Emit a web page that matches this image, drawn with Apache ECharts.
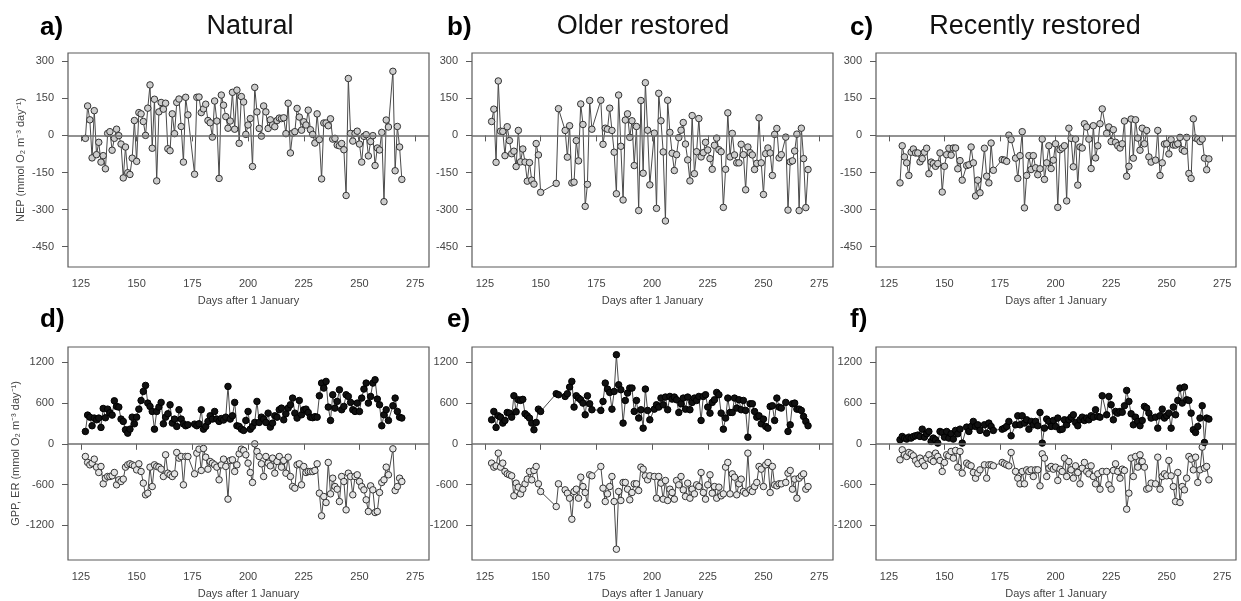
<!DOCTYPE html>
<html>
<head>
<meta charset="utf-8">
<script src="https://cdn.jsdelivr.net/npm/echarts@6/dist/echarts.min.js"></script>
<style>
html,body{margin:0;padding:0;background:#fff;}
#chart{width:1241px;height:601px;}
</style>
</head>
<body>
<div id="chart"></div>
<script>
// ---------------- DATA ----------------
const xTicks = [125, 150, 175, 200, 225, 250, 275];
const nepTicks = [-450, -300, -150, 0, 150, 300];
const fluxTicks = [-1200, -600, 0, 600, 1200];

const panelLetters = ["a)", "b)", "c)", "d)", "e)", "f)"];
const siteNames = ["Natural", "Older restored", "Recently restored"];

// Natural (panels a, d)
const daysNatural = [127,128,129,130,131,132,133,134,135,136,137,138,139,140,141,142,143,144,145,146,147,148,149,150,151,152,153,154,155,156,157,158,159,160,161,162,163,164,165,166,167,168,169,170,171,172,173,
176,177,178,179,180,181,182,183,184,185,186,187,188,189,190,191,192,193,194,195,196,197,198,199,200,201,202,203,204,205,206,207,208,209,210,211,212,213,214,215,216,217,218,219,220,221,222,223,224,225,226,227,228,229,230,231,232,233,234,235,236,237,238,239,240,241,242,243,244,245,246,247,248,249,250,251,252,253,254,255,256,257,258,259,260,261,262,263,
265,266,267,268,269];
const nepNatural = [-12,119,63,-91,100,-78,-28,-108,-82,-135,8,15,-60,-12,25,-1,-35,-172,-47,-151,-158,-92,60,-105,92,87,56,0,110,204,-52,146,-184,95,133,106,130,-54,-62,87,7,133,147,36,-108,154,83,
-157,154,155,92,107,126,60,51,-7,139,58,-174,163,122,76,29,58,174,25,183,-32,157,135,4,42,68,-126,194,95,28,-3,119,95,28,63,42,35,60,70,68,71,7,130,-71,9,15,109,74,21,55,42,102,23,4,-31,87,-17,-176,50,50,39,67,-15,-12,-39,-42,-33,-58,-243,230,8,-23,8,17,-35,-108,-4,3,-83,-25,-1,-122,-51,-59,12,-268,62,34,
259,-143,36,-47,-178];
const gppNatural = [182,423,393,266,379,354,379,241,521,384,511,457,423,634,551,541,364,330,207,157,216,393,295,393,511,639,772,861,600,551,477,216,477,541,610,295,393,443,575,305,364,256,502,364,295,266,280,
290,266,295,502,216,256,330,413,364,477,364,330,372,350,393,846,364,413,610,266,256,216,197,344,477,216,256,315,625,315,393,364,315,452,246,305,413,393,502,526,354,443,526,575,674,452,379,639,428,502,511,462,393,385,400,393,708,895,821,920,541,344,723,526,625,797,502,551,723,698,610,502,477,600,477,674,807,895,600,698,895,944,659,575,266,428,502,344,
561,674,477,393,380];
const erNatural = [-187,-275,-310,-285,-226,-344,-423,-334,-590,-507,-482,-482,-472,-423,-605,-531,-556,-521,-344,-310,-295,-310,-325,-384,-295,-408,-580,-752,-728,-344,-630,-310,-334,-344,-374,-482,-162,-433,-457,-482,-443,-128,-211,-187,-605,-187,-187,
-443,-138,-79,-393,-69,-197,-374,-261,-285,-310,-344,-531,-310,-226,-334,-816,-246,-236,-408,-310,-148,-79,-98,-162,-285,-423,-570,0,-113,-187,-295,-482,-187,-285,-325,-211,-433,-261,-187,-344,-246,-433,-197,-482,-630,-654,-310,-295,-605,-334,-423,-408,-408,-408,-393,-295,-728,-1062,-777,-866,-275,-738,-507,-630,-669,-851,-482,-556,-974,-433,-482,-752,-482,-457,-556,-630,-679,-826,-998,-620,-679,-1013,-998,-718,-570,-531,-344,-457,
-74,-689,-630,-507,-556];

// Older restored (panels b, e)
const daysOlder = [128,129,130,131,132,133,134,135,136,137,138,139,140,141,142,143,144,145,146,147,148,149,150,
157,158,
161,162,163,164,165,166,167,168,169,170,171,172,173,
177,178,179,180,181,182,183,184,185,186,187,188,189,190,191,192,193,194,195,196,197,198,199,
201,202,203,204,205,206,207,208,209,210,211,212,213,214,215,216,217,218,219,220,221,222,223,224,225,226,227,228,229,230,231,232,233,234,235,236,237,238,239,240,241,242,243,244,245,246,247,248,249,250,251,252,253,254,255,256,257,258,
260,261,262,263,264,265,266,267,268,269,270];
const nepOlder = [56,106,-109,220,17,16,-82,35,-21,-74,-64,-126,20,-107,-55,-108,-185,-110,-181,-197,-33,-79,-230,
-194,108,
20,-88,39,-192,-189,-21,-103,127,44,-287,-198,141,25,
142,-36,29,25,110,20,-68,-236,163,-44,-261,62,87,-8,59,-122,36,-304,141,-153,213,21,-200,
9,-295,170,59,-67,-346,142,12,-72,-142,-78,-9,21,52,-35,-99,-184,80,-155,-66,68,-87,-70,-28,-59,-94,-137,-40,-11,-58,-66,-291,-137,91,-87,8,-79,-111,-111,-36,-78,-220,-47,-70,-79,-138,-113,71,-111,-239,-74,-51,-71,-162,4,28,-91,-78,
-7,-302,-107,-103,-63,5,-304,29,-94,-292,-138];
const gppOlder = [354,477,241,413,393,305,344,462,452,393,708,472,649,640,655,443,413,379,305,207,315,511,477,
738,723,
698,738,836,920,541,708,674,649,600,428,708,590,502,
492,625,895,807,757,511,772,1313,870,797,305,639,748,821,821,477,639,379,502,231,807,492,354,
511,575,541,674,575,689,502,698,659,689,649,462,590,674,511,689,502,610,674,639,698,344,698,723,541,452,610,649,757,723,452,216,379,674,462,462,674,526,649,502,639,492,98,590,590,477,393,413,295,364,256,231,551,561,344,674,541,526,
610,182,280,590,600,511,511,492,403,330,266];
const erOlder = [-285,-344,-325,-138,-344,-285,-408,-443,-457,-472,-767,-580,-639,-738,-669,-590,-521,-408,-531,-393,-334,-590,-703,
-925,-590,
-679,-728,-802,-1112,-703,-669,-802,-492,-630,-718,-900,-457,-472,
-334,-654,-851,-738,-630,-482,-851,-1554,-703,-836,-570,-570,-669,-826,-718,-590,-590,-689,-344,-374,-472,-531,-472,
-482,-802,-482,-580,-816,-541,-836,-669,-718,-816,-541,-605,-482,-679,-777,-580,-802,-669,-738,-605,-630,-423,-718,-816,-605,-457,-728,-630,-802,-639,-767,-738,-344,-275,-738,-443,-492,-752,-590,-521,-703,-728,-138,-679,-703,-630,-570,-334,-374,-630,-310,-275,-718,-334,-605,-620,-590,-590,
-570,-433,-393,-669,-521,-802,-507,-472,-443,-669,-630];

// Recently restored (panels c, f)
const daysRecent = [130,131,132,133,134,135,136,137,138,139,140,141,142,143,144,145,146,147,148,149,150,151,152,153,154,155,156,157,158,
160,161,162,163,164,165,166,
168,169,170,171,172,
176,177,178,179,180,
182,183,184,185,186,187,188,189,190,191,192,193,194,195,196,197,198,199,200,201,202,203,204,205,206,207,208,209,210,211,212,213,214,215,216,217,218,219,220,221,
223,224,225,226,227,228,229,230,231,232,233,234,235,236,237,238,239,240,241,242,243,
245,246,247,248,249,250,251,252,253,254,255,256,257,258,259,260,261,262,263,264,265,266,267,268,269];
const nepRecent = [-192,-42,-87,-111,-162,-68,-55,-71,-71,-107,-94,-68,-52,-155,-108,-114,-125,-114,-71,-229,-125,-78,-52,-80,-51,-51,-135,-102,-181,
-122,-119,-47,-111,-245,-181,-232,
-52,-165,-192,-31,-141,
-98,-100,-105,1,-17,
-92,-174,-82,15,-293,-162,-82,-138,-82,-131,-159,-135,-15,-178,-111,-42,-134,-100,-34,-291,-58,-51,-42,-265,29,-12,-127,-15,-201,-47,-51,47,34,-15,-134,39,-91,-42,47,107,
8,34,-25,23,-28,-42,-51,-34,58,-165,-125,66,-92,63,-11,-60,29,-34,20,-87,-108,
-100,20,-162,-111,-35,-34,-75,-17,-39,-39,-34,-8,-58,-64,-8,-154,-174,67,-11,-15,-25,-15,-92,-139,-95];
const gppRecent = [59,108,84,69,98,84,108,118,128,108,216,98,148,182,34,84,59,10,182,167,98,182,84,148,69,197,148,216,10,
246,182,256,330,256,280,197,
280,157,305,256,197,
216,231,256,330,118,
280,413,280,413,305,354,216,330,280,330,266,462,10,231,364,330,256,344,256,379,207,216,354,280,354,393,428,315,266,354,393,344,379,354,413,393,502,403,393,708,
428,698,575,354,477,452,477,465,560,787,625,443,280,393,330,266,344,551,526,452,379,
393,231,413,511,379,413,452,231,541,428,639,821,600,836,649,639,452,207,167,256,379,561,20,379,364];
const erRecent = [-236,-89,-162,-187,-128,-148,-177,-246,-295,-211,-261,-325,-211,-162,-236,-261,-138,-187,-246,-408,-275,-162,-177,-113,-211,-98,-344,-113,-433,
-285,-310,-325,-423,-507,-433,-384,
-310,-507,-310,-310,-325,
-275,-295,-310,-325,-128,
-408,-507,-590,-408,-590,-384,-408,-384,-482,-384,-384,-620,-148,-211,-482,-359,-334,-374,-344,-541,-374,-408,-211,-482,-261,-384,-507,-325,-423,-590,-359,-275,-408,-443,-325,-482,-590,-443,-669,-408,
-408,-605,-669,-393,-295,-408,-507,-374,-393,-964,-728,-211,-482,-187,-344,-162,-261,-344,-669,-654,-580,
-590,-197,-669,-482,-443,-472,-246,-472,-630,-851,-423,-866,-630,-679,-507,-187,-226,-384,-197,-570,-384,-49,-359,-334,-531];

// ---------------- CHART ----------------
const FONT = "'Liberation Sans', Arial, Helvetica, sans-serif";
const pairs = (xs, ys) => xs.map((x, i) => [x, ys[i]]);
const plain = v => String(v);

const gridBoxes = [
  {left: 68, top: 53, width: 361, height: 214},
  {left: 472, top: 53, width: 361, height: 214},
  {left: 876, top: 53, width: 360, height: 214},
  {left: 68, top: 347, width: 361, height: 213},
  {left: 472, top: 347, width: 361, height: 213},
  {left: 876, top: 347, width: 360, height: 213}
];

const grid = gridBoxes.map(g => Object.assign({
  show: true, borderColor: '#5a5a5a', borderWidth: 1.2, backgroundColor: 'transparent'
}, g));

const xAxis = gridBoxes.map((g, i) => ({
  type: 'value', gridIndex: i, min: 119.2, max: 281.2,
  axisLine: {show: false},
  axisTick: {show: true, customValues: xTicks, length: 6, lineStyle: {color: '#5a5a5a', width: 1}},
  axisLabel: {customValues: xTicks, formatter: plain, margin: 11, fontSize: 11, color: '#444', fontFamily: FONT},
  splitLine: {show: false},
  name: 'Days after 1 January', nameLocation: 'middle', nameGap: 28,
  nameTextStyle: {fontSize: 11, color: '#444', fontFamily: FONT}
}));

const yAxis = gridBoxes.map((g, i) => {
  const top = i < 3;
  const ax = {
    type: 'value', gridIndex: i,
    min: top ? -532 : -1713, max: top ? 333 : 1427,
    axisLine: {show: false},
    axisTick: {show: true, customValues: top ? nepTicks : fluxTicks, length: 6, lineStyle: {color: '#5a5a5a', width: 1}},
    axisLabel: {customValues: top ? nepTicks : fluxTicks, formatter: plain, margin: 14, fontSize: 11, color: '#444', fontFamily: FONT},
    splitLine: {show: false}
  };
  if (i === 0 || i === 3) {
    ax.name = top ? 'NEP (mmol O\u2082 m\u207B\u00B3 day\u207B\u00B9)' : 'GPP, ER (mmol O\u2082 m\u207B\u00B3 day\u207B\u00B9)';
    ax.nameLocation = 'middle';
    ax.nameGap = 42;
    ax.nameTextStyle = {fontSize: 11, color: '#444', fontFamily: FONT};
  }
  return ax;
});

const zeroLine = {
  silent: true, symbol: 'none', animation: false,
  label: {show: false},
  lineStyle: {color: '#6e6e6e', width: 1.5, type: 'solid'},
  data: [{yAxis: 0}]
};

function lineSeries(idx, data, fill, border, withZero) {
  const s = {
    type: 'line', xAxisIndex: idx, yAxisIndex: idx, data: data,
    symbol: 'circle', symbolSize: 6.5, showAllSymbol: true,
    lineStyle: {color: '#4a4a4a', width: 1},
    itemStyle: {color: fill, borderColor: border, borderWidth: 1},
    emphasis: {disabled: true},
    animation: false
  };
  if (withZero) s.markLine = zeroLine;
  return s;
}

const series = [
  lineSeries(0, pairs(daysNatural, nepNatural), '#cccccc', '#333', true),
  lineSeries(1, pairs(daysOlder, nepOlder), '#cccccc', '#333', true),
  lineSeries(2, pairs(daysRecent, nepRecent), '#cccccc', '#333', true),
  lineSeries(3, pairs(daysNatural, erNatural), '#e4e4e4', '#333', true),
  lineSeries(3, pairs(daysNatural, gppNatural), '#111', '#000', false),
  lineSeries(4, pairs(daysOlder, erOlder), '#e4e4e4', '#333', true),
  lineSeries(4, pairs(daysOlder, gppOlder), '#111', '#000', false),
  lineSeries(5, pairs(daysRecent, erRecent), '#e4e4e4', '#333', true),
  lineSeries(5, pairs(daysRecent, gppRecent), '#111', '#000', false)
];

const letterPos = [[40, 28], [447, 28], [850, 28], [40, 320], [447, 320], [850, 320]];
const titleCenters = [250, 643, 1035];
const graphic = [];
panelLetters.forEach((t, i) => {
  graphic.push({type: 'text', x: letterPos[i][0], y: letterPos[i][1],
    style: {text: t, font: 'bold 26px ' + FONT, fill: '#000', textAlign: 'left', textVerticalAlign: 'middle'}});
});
siteNames.forEach((t, i) => {
  graphic.push({type: 'text', x: titleCenters[i], y: 27,
    style: {text: t, font: '27px ' + FONT, fill: '#111', textAlign: 'center', textVerticalAlign: 'middle'}});
});

const chart = echarts.init(document.getElementById('chart'), null, {renderer: 'canvas'});
chart.setOption({
  animation: false,
  backgroundColor: '#fff',
  textStyle: {fontFamily: FONT},
  grid: grid, xAxis: xAxis, yAxis: yAxis, series: series, graphic: graphic
});
</script>
</body>
</html>
